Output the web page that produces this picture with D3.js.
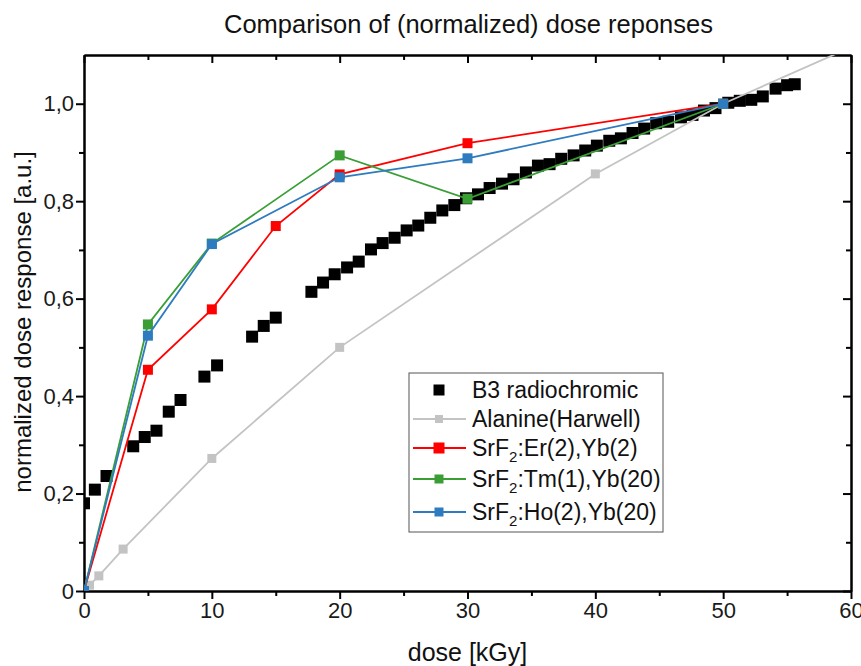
<!DOCTYPE html>
<html>
<head>
<meta charset="utf-8">
<script src="https://cdn.jsdelivr.net/npm/d3@7"></script>
<style>
  body { margin: 0; background: #fff; }
  text { font-family: "Liberation Sans", Arial, sans-serif; }
</style>
</head>
<body>
<div id="my_dataviz"></div>
<script>

// B3 radiochromic film (black squares, no line)
var b3Dose = [0.0, 0.85, 1.76, 3.85, 4.75, 5.67, 6.63, 7.55, 9.42, 10.41, 13.15, 14.06, 15.0,
  17.79, 18.70, 19.61, 20.58, 21.49, 22.45, 23.36, 24.30, 25.24, 26.15, 27.09, 28.03, 28.97,
  29.88, 30.82, 31.73, 32.70, 33.6, 34.57, 35.51, 36.42, 37.33, 38.30, 39.21, 40.12, 41.09,
  42.0, 42.91, 43.82, 44.76, 45.7, 46.7, 47.6, 48.5, 49.4, 50.4, 51.3, 52.2, 53.1, 54.1, 55.0, 55.6];
var b3Resp = [0.180, 0.208, 0.236, 0.297, 0.316, 0.329, 0.368, 0.392, 0.440, 0.463, 0.522, 0.544, 0.561,
  0.614, 0.633, 0.650, 0.664, 0.676, 0.701, 0.714, 0.725, 0.740, 0.750, 0.766, 0.781, 0.792,
  0.806, 0.814, 0.827, 0.836, 0.845, 0.859, 0.873, 0.876, 0.887, 0.894, 0.904, 0.914, 0.924,
  0.929, 0.940, 0.949, 0.960, 0.963, 0.972, 0.977, 0.986, 0.991, 1.002, 1.006, 1.008, 1.015, 1.031, 1.038, 1.040];

var alanineDose = [0, 0.43, 1.16, 3.06, 10, 20, 40, 50, 60];
var alanineResp = [0, 0.012, 0.031, 0.086, 0.272, 0.500, 0.856, 1.0, 1.116];

var erDose = [0, 5, 10, 15, 20, 30, 50];
var erResp = [0, 0.454, 0.578, 0.749, 0.855, 0.919, 1.0];

var tmDose = [0, 5, 10, 20, 30, 50];
var tmResp = [0, 0.547, 0.713, 0.894, 0.805, 1.0];

var hoDose = [0, 5, 10, 20, 30, 50];
var hoResp = [0, 0.524, 0.712, 0.849, 0.888, 1.0];

var xTicks = [0, 10, 20, 30, 40, 50, 60];
var xMinor = [5, 15, 25, 35, 45, 55];
var yTicks = [0, 0.2, 0.4, 0.6, 0.8, 1.0];
var yMinor = [0.1, 0.3, 0.5, 0.7, 0.9];

var legendNames = ["B3 radiochromic", "Alanine(Harwell)", "SrF|2|:Er(2),Yb(2)", "SrF|2|:Tm(1),Yb(20)", "SrF|2|:Ho(2),Yb(20)"];

// set the dimensions and margins of the graph
var margin = {top: 55, right: 10, bottom: 75, left: 84},
    width = 861 - margin.left - margin.right,
    height = 666 - margin.top - margin.bottom;

var svgRoot = d3.select("#my_dataviz")
  .append("svg")
    .attr("width", 861)
    .attr("height", 666);

var svg = svgRoot.append("g")
    .attr("transform", "translate(" + margin.left + "," + margin.top + ")");

svgRoot.append("defs").append("clipPath")
    .attr("id", "plotclip")
  .append("rect")
    .attr("width", width)
    .attr("height", height);

var x = d3.scaleLinear().domain([0, 60]).range([0, width]);
var y = d3.scaleLinear().domain([0, 1.1]).range([height, 0]);

function fmt(d) { return d === 0 ? "0" : d3.format(".1f")(d).replace(".", ","); }

// axes: bottom/left outward, top/right inward
function styleAxis(g) {
  g.selectAll(".domain").attr("stroke", "#000").attr("stroke-width", 2);
  g.selectAll(".tick line").attr("stroke", "#000").attr("stroke-width", 2);
  g.selectAll(".tick text").attr("font-size", 22).attr("fill", "#1a1a1a")
    .attr("font-family", "'Liberation Sans', Arial, sans-serif");
}

var axis_b = svg.append("g").attr("transform", "translate(0," + height + ")")
  .call(d3.axisBottom(x).tickValues(xTicks).tickSize(8).tickSizeOuter(0).tickPadding(3));
styleAxis(axis_b);
var axis_bm = svg.append("g").attr("transform", "translate(0," + height + ")")
  .call(d3.axisBottom(x).tickValues(xMinor).tickSize(5).tickSizeOuter(0).tickFormat(""));
styleAxis(axis_bm);

var axis_l = svg.append("g")
  .call(d3.axisLeft(y).tickValues(yTicks).tickSize(8).tickSizeOuter(0).tickPadding(2).tickFormat(fmt));
styleAxis(axis_l);
var axis_lm = svg.append("g")
  .call(d3.axisLeft(y).tickValues(yMinor).tickSize(5).tickSizeOuter(0).tickFormat(""));
styleAxis(axis_lm);

var axis_t = svg.append("g")
  .call(d3.axisTop(x).tickValues(xTicks).tickSize(-8).tickSizeOuter(0).tickFormat(""));
styleAxis(axis_t);
var axis_tm = svg.append("g")
  .call(d3.axisTop(x).tickValues(xMinor).tickSize(-5).tickSizeOuter(0).tickFormat(""));
styleAxis(axis_tm);

var axis_r = svg.append("g").attr("transform", "translate(" + width + ",0)")
  .call(d3.axisRight(y).tickValues(yTicks).tickSize(-8).tickSizeOuter(0).tickFormat(""));
styleAxis(axis_r);
var axis_rm = svg.append("g").attr("transform", "translate(" + width + ",0)")
  .call(d3.axisRight(y).tickValues(yMinor).tickSize(-5).tickSizeOuter(0).tickFormat(""));
styleAxis(axis_rm);

var plot = svg.append("g").attr("clip-path", "url(#plotclip)");

function zip(xs, ys) { return xs.map(function(d, i) { return {x: d, y: ys[i]}; }); }

function addSeries(xs, ys, color, size, withLine) {
  var pts = zip(xs, ys);
  if (withLine) {
    plot.append("path")
      .datum(pts)
      .attr("fill", "none")
      .attr("stroke", color)
      .attr("stroke-width", 1.8)
      .attr("d", d3.line()
        .x(function(d) { return x(d.x); })
        .y(function(d) { return y(d.y); }));
  }
  plot.selectAll(null)
    .data(pts)
    .enter().append("rect")
      .attr("x", function(d) { return x(d.x) - size / 2; })
      .attr("y", function(d) { return y(d.y) - size / 2; })
      .attr("width", size)
      .attr("height", size)
      .attr("fill", color);
}

addSeries(b3Dose, b3Resp, "#000000", 12, false);
addSeries(alanineDose, alanineResp, "#c3c3c3", 9, true);
addSeries(erDose, erResp, "#ff0000", 10, true);
addSeries(tmDose, tmResp, "#3a9e35", 10, true);
addSeries(hoDose, hoResp, "#2e7cbf", 10, true);

// legend
var legColors = ["#000000", "#c3c3c3", "#ff0000", "#3a9e35", "#2e7cbf"];
var legSizes = [11, 8, 11, 9, 9];
var legRows = [17, 46, 75, 106, 139];
var leg = svgRoot.append("g").attr("transform", "translate(409,373)");
leg.append("rect")
  .attr("width", 254).attr("height", 159)
  .attr("fill", "#fff").attr("stroke", "#555").attr("stroke-width", 1);

legendNames.forEach(function(name, i) {
  var cy = legRows[i];
  if (i > 0) {
    leg.append("line")
      .attr("x1", 4).attr("x2", 57).attr("y1", cy).attr("y2", cy)
      .attr("stroke", legColors[i]).attr("stroke-width", 1.8);
  }
  leg.append("rect")
    .attr("x", 30 - legSizes[i] / 2).attr("y", cy - legSizes[i] / 2)
    .attr("width", legSizes[i]).attr("height", legSizes[i])
    .attr("fill", legColors[i]);
  var t = leg.append("text")
    .attr("x", 63).attr("y", cy + 8)
    .attr("font-size", 23).attr("fill", "#111");
  var parts = name.split("|");
  t.append("tspan").text(parts[0]);
  if (parts.length > 1) {
    t.append("tspan").attr("font-size", 15).attr("dy", 6).text(parts[1]);
    t.append("tspan").attr("dy", -6).text(parts[2]);
  }
});

// titles
svgRoot.append("text")
  .attr("x", margin.left + width / 2 + 1).attr("y", 33)
  .attr("text-anchor", "middle").attr("font-size", 25.5).attr("fill", "#111")
  .text("Comparison of (normalized) dose reponses");

svgRoot.append("text")
  .attr("x", margin.left + width / 2).attr("y", 661)
  .attr("text-anchor", "middle").attr("font-size", 25).attr("fill", "#111")
  .text("dose [kGy]");

svgRoot.append("text")
  .attr("transform", "translate(31,322) rotate(-90)")
  .attr("text-anchor", "middle").attr("font-size", 24).attr("fill", "#111")
  .text("normalized dose response [a.u.]");

</script>
</body>
</html>
